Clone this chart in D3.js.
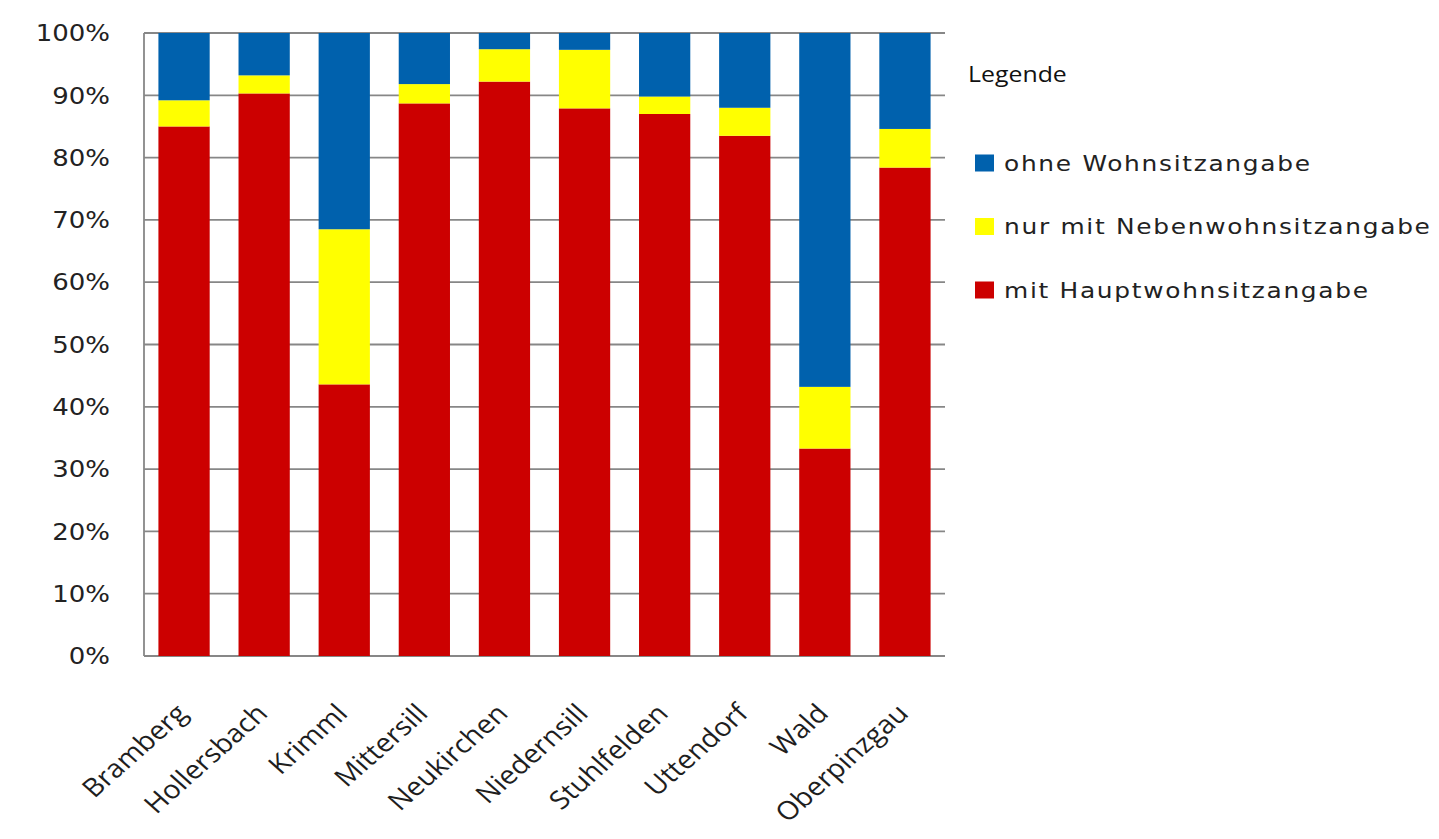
<!DOCTYPE html>
<html>
<head>
<meta charset="utf-8">
<script src="https://cdn.jsdelivr.net/npm/d3@7"></script>
<style>
  html, body { margin: 0; padding: 0; background: #ffffff; }
  svg { display: block; }
</style>
</head>
<body>
<svg id="chart" width="1439" height="839"></svg>
<script>
// Gemeinden (Oberpinzgau) and share of persons by residence information, in percent
const categories = ["Bramberg", "Hollersbach", "Krimml", "Mittersill", "Neukirchen",
                    "Niedernsill", "Stuhlfelden", "Uttendorf", "Wald", "Oberpinzgau"];
const hauptwohnsitz = [85.0, 90.3, 43.6, 88.7, 92.2, 87.9, 87.0, 83.5, 33.3, 78.4];
const nebenwohnsitz = [ 4.2,  2.9, 24.9,  3.1,  5.2,  9.4,  2.8,  4.5,  9.9,  6.2];
const ohneAngabe    = [10.8,  6.8, 31.5,  8.2,  2.6,  2.7, 10.2, 12.0, 56.8, 15.4];
const yTicks = [0, 10, 20, 30, 40, 50, 60, 70, 80, 90, 100];

const seriesKeys   = ["haupt", "neben", "ohne"];
const seriesLabels = {
  haupt: "mit Hauptwohnsitzangabe",
  neben: "nur mit Nebenwohnsitzangabe",
  ohne:  "ohne Wohnsitzangabe"
};
const seriesColors = { haupt: "#cc0000", neben: "#ffff00", ohne: "#0061ad" };
const legendOrder = ["ohne", "neben", "haupt"];

// horizontal text stretch of the original rendering
const SX = 1.13;

const rows = categories.map((c, i) => ({
  name: c, haupt: hauptwohnsitz[i], neben: nebenwohnsitz[i], ohne: ohneAngabe[i]
}));

const svg = d3.select("#chart");
const plot = { left: 144, right: 945, top: 33, bottom: 656 };

const x = d3.scaleBand()
  .domain(categories)
  .range([plot.left, plot.right])
  .paddingInner(0.36)
  .paddingOuter(0.18);

const y = d3.scaleLinear().domain([0, 100]).range([plot.bottom, plot.top]);

// gridlines
svg.append("g")
  .selectAll("line")
  .data(yTicks)
  .join("line")
  .attr("x1", plot.left).attr("x2", plot.right)
  .attr("y1", d => y(d)).attr("y2", d => y(d))
  .attr("stroke", "#878787")
  .attr("stroke-width", 1.8);

// left axis line
svg.append("line")
  .attr("x1", plot.left).attr("x2", plot.left)
  .attr("y1", y(100)).attr("y2", y(0))
  .attr("stroke", "#878787")
  .attr("stroke-width", 1.8);

// stacked bars
const stacked = d3.stack().keys(seriesKeys)(rows);
svg.append("g")
  .selectAll("g")
  .data(stacked)
  .join("g")
  .attr("fill", s => seriesColors[s.key])
  .selectAll("rect")
  .data(s => s)
  .join("rect")
  .attr("x", d => x(d.data.name))
  .attr("width", x.bandwidth())
  .attr("y", d => y(d[1]))
  .attr("height", d => y(d[0]) - y(d[1]));

// y tick labels
svg.append("g")
  .selectAll("text")
  .data(yTicks)
  .join("text")
  .attr("transform", d => `translate(110,${y(d)}) scale(${SX},1)`)
  .attr("dy", "0.36em")
  .attr("text-anchor", "end")
  .attr("font-family", "DejaVu Sans, Verdana, sans-serif")
  .attr("font-size", 23)
  .attr("fill", "#222")
  .text(d => d + "%");

// x category labels, rotated
svg.append("g")
  .selectAll("text")
  .data(categories)
  .join("text")
  .attr("transform", d => `translate(${x(d) + x.bandwidth() / 2 + 5},${plot.bottom + 59}) scale(${SX},1) rotate(-45)`)
  .attr("text-anchor", "end")
  .attr("font-family", "Open Sans, sans-serif")
  .attr("font-size", 25.5)
  .attr("fill", "#1e1e1e")
  .text(d => d);

// legend
const legend = svg.append("g");
legend.append("text")
  .attr("transform", `translate(968,82) scale(${SX},1)`)
  .attr("font-family", "Open Sans, sans-serif")
  .attr("font-size", 22)
  .attr("fill", "#111")
  .text("Legende");

const legendY = d3.scalePoint().domain(legendOrder).range([163, 290]);
const items = legend.selectAll("g.item")
  .data(legendOrder)
  .join("g")
  .attr("class", "item");
items.append("rect")
  .attr("x", 975)
  .attr("y", k => legendY(k) - 8.5)
  .attr("width", 19)
  .attr("height", 17)
  .attr("fill", k => seriesColors[k]);
items.append("text")
  .attr("transform", k => `translate(1004,${legendY(k)}) scale(${SX},1)`)
  .attr("dy", "0.36em")
  .attr("font-family", "DejaVu Sans, Tahoma, sans-serif")
  .attr("font-size", 22)
  .attr("letter-spacing", 1.5)
  .attr("fill", "#222")
  .text(k => seriesLabels[k]);
</script>
</body>
</html>
